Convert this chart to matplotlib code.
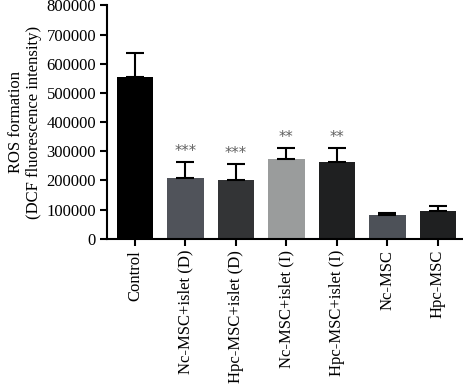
import matplotlib
matplotlib.use("Agg")
import matplotlib.pyplot as plt

plt.rcParams['font.family'] = ['Liberation Serif', 'DejaVu Serif']

groups = ['Control', 'Nc-MSC+islet (D)', 'Hpc-MSC+islet (D)', 'Nc-MSC+islet (I)',
          'Hpc-MSC+islet (I)', 'Nc-MSC', 'Hpc-MSC']
means = [553000, 210000, 203000, 275000, 262000, 81000, 95000]
errs = [84000, 53000, 53000, 38000, 51000, 9000, 17000]
stars = ['', '***', '***', '**', '**', '', '']
colors = ['#000000', '#50535a', '#333436', '#9a9c9c', '#1f2021', '#4d5158', '#1f2021']

fig = plt.figure(figsize=(4.64, 3.84), dpi=100)
ax = fig.add_axes([0.231, 0.378, 0.767, 0.608])

x = range(len(groups))
ax.bar(x, means, width=0.72, color=colors, zorder=2)
ax.errorbar(x, means, yerr=[[0] * len(errs), errs], fmt='none', ecolor='black',
            elinewidth=1.5, capsize=6.5, capthick=1.5, zorder=3)
for i, s in enumerate(stars):
    if s:
        ax.text(i, means[i] + errs[i] + 10000, s, ha='center', va='bottom',
                fontsize=10.5, color='#606060', family='DejaVu Sans')

ax.set_xlim(-0.55, 6.5)
ax.set_ylim(0, 800000)
ax.set_yticks(range(0, 800001, 100000))
ax.set_yticklabels([str(v) for v in range(0, 800001, 100000)], fontsize=12)
ax.set_xticks(list(x))
ax.set_xticklabels(groups, rotation=90, fontsize=12)
ax.set_ylabel('ROS formation\n(DCF fluorescence intensity)', fontsize=12, labelpad=3)

for sp in ['top', 'right']:
    ax.spines[sp].set_visible(False)
for sp in ['left', 'bottom']:
    ax.spines[sp].set_linewidth(1.5)
ax.tick_params(axis='both', width=1.5, length=5, direction='out', pad=3)

fig.savefig('out.png', dpi=100)
